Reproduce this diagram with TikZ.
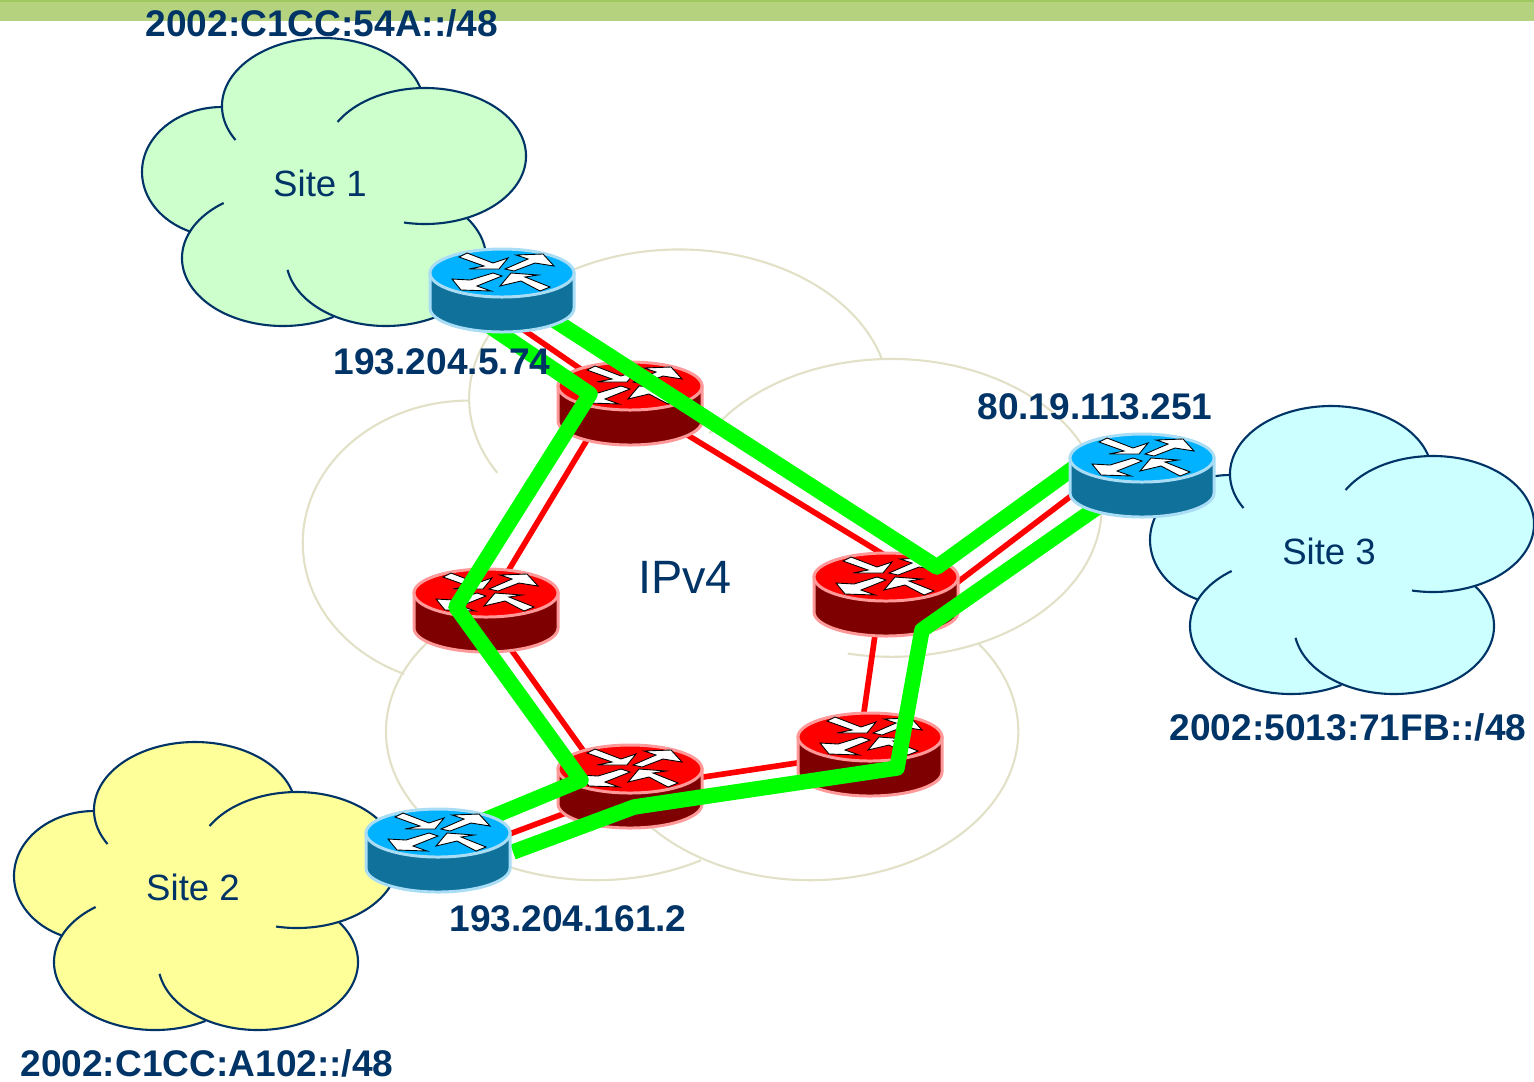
\documentclass[tikz,border=0pt]{standalone}
\usepackage{fontspec}
\setmainfont{Liberation Sans}
\usepackage{xcolor}
\usetikzlibrary{positioning,calc}

\definecolor{labelblue}{HTML}{003366}
\definecolor{barmoss}{HTML}{B5D27F}
\definecolor{barline}{HTML}{A0C860}
\definecolor{sitegreen}{HTML}{CCFFCC}
\definecolor{siteyellow}{HTML}{FFFF99}
\definecolor{sitecyan}{HTML}{CCFFFF}
\definecolor{coregrey}{HTML}{E2E1C8}
\definecolor{tunnelgreen}{HTML}{00FF00}
\definecolor{blueface}{HTML}{00B2FF}
\definecolor{blueside}{HTML}{10719B}
\definecolor{bluerim}{HTML}{A8DDF5}
\definecolor{redface}{HTML}{FF0000}
\definecolor{redside}{HTML}{7F0000}
\definecolor{redrim}{HTML}{FF9999}

\tikzset{
    addrlabel/.style={font=\bfseries\fontsize{10.55}{12}\selectfont, text=labelblue, inner sep=0pt},
    sitelabel/.style={font=\fontsize{10.4}{12}\selectfont, text=labelblue, inner sep=0pt},
    ipv4link/.style={draw=redface, line width=1.6pt},
    tunnel/.style={draw=tunnelgreen, line width=4.4pt, line join=round},
    routerarrow/.style={fill=white, draw=black, line width=0.25pt},
    pics/sitecloud/.style 2 args={code={
        % Fill
        \fill[#1] (3,-77) ellipse [x radius=101, y radius=68];
        \fill[#1] (105,-27) ellipse [x radius=101, y radius=68];
        \fill[#1] (-98,-11) ellipse [x radius=80, y radius=65];
        \fill[#1] (-37,75) ellipse [x radius=101, y radius=68];
        \fill[#1] (66,75) ellipse [x radius=100, y radius=68];
        \fill[#1] (-40,-40) rectangle (60,60);
        % Outline
        \draw[#2, line width=0.6pt] ([shift={(3,-77)}]150:101 and 68) arc [start angle=150, end angle=345, x radius=101, y radius=68];
        \draw[#2, line width=0.6pt] ([shift={(105,-27)}]210:101 and 68) arc [start angle=210, end angle=462, x radius=101, y radius=68];
        \draw[#2, line width=0.6pt] ([shift={(-98,-11)}]270:80 and 65) arc [start angle=270, end angle=113, x radius=80, y radius=65];
        \draw[#2, line width=0.6pt] ([shift={(-37,75)}]234:101 and 68) arc [start angle=234, end angle=60, x radius=101, y radius=68];
        \draw[#2, line width=0.6pt] ([shift={(66,75)}]170:100 and 68) arc [start angle=170, end angle=-36, x radius=100, y radius=68];
    }},
    pics/router/.style n args={3}{code={
        % Body
        \draw[fill=#2, draw=#3, line width=0.85pt] (-72,0) -- (-72,35) arc [start angle=180, end angle=0, x radius=72, y radius=24] -- (72,0) -- cycle;
        \draw[fill=#1, draw=#3, line width=0.85pt] (0,0) ellipse [x radius=72, y radius=24];
        % Arrows
        \draw[routerarrow] (-43,-16) -- (-35,-20) -- (-9,-10) -- (6,-15) -- (-3,-4) -- (-33,-4) -- (-18,-7) -- cycle;
        \draw[routerarrow] (3,-4) -- (12,-2) -- (33,-10) -- (52,-7) -- (41,-19) -- (14,-18) -- (26,-14) -- cycle;
        \draw[routerarrow] (0,3) -- (-9,0) -- (-32,7) -- (-50,6) -- (-41,17) -- (-11,18) -- (-25,13) -- cycle;
        \draw[routerarrow] (48,14) -- (38,18) -- (19,8) -- (-2,13) -- (9,0) -- (36,2) -- (23,4) -- cycle;
    }},
}

\begin{document}
\begin{tikzpicture}[x=0.01cm, y=-0.01cm]
    \useasboundingbox (0,0) rectangle (1534,1081);

    % Routers
    \coordinate (edge1) at (502,273);
    \coordinate (edge2) at (438,833);
    \coordinate (edge3) at (1142,458);
    \coordinate (coretop) at (630,386);
    \coordinate (coreleft) at (486,593);
    \coordinate (coreright) at (886,577);
    \coordinate (corelow) at (870,737);
    \coordinate (corebot) at (630,769);

    % Link ends, hidden behind the routers
    \coordinate (e1s) at (502,315);
    \coordinate (ts1) at (630,403);
    \coordinate (ts2) at (630,400);
    \coordinate (rn) at (886,556);
    \coordinate (rs) at (900,626);
    \coordinate (e3s) at (1142,442);
    \coordinate (ts3) at (605,410);
    \coordinate (ln) at (490,601);
    \coordinate (ls) at (490,620);
    \coordinate (bn) at (600,774);
    \coordinate (be) at (630,788);
    \coordinate (lw) at (870,752);
    \coordinate (ln2) at (860,740);
    \coordinate (rb) at (880,600);
    \coordinate (bw) at (630,789);
    \coordinate (e2e) at (480,845);

    % Tunnel bends
    \coordinate (a0) at (482,321);
    \coordinate (a1) at (590,394);
    \coordinate (a2) at (456,607);
    \coordinate (a3) at (581,780);
    \coordinate (a4) at (470,826);
    \coordinate (b0) at (540,311);
    \coordinate (b1) at (937,567);
    \coordinate (b2) at (1090,456);
    \coordinate (c0) at (1112,497);
    \coordinate (c1) at (922,630);
    \coordinate (c2) at (897,768);
    \coordinate (c3) at (634,807);
    \coordinate (c4) at (513,852);

    % Title bar
    \fill[barmoss] (0,0) rectangle (1534,21);
    \fill[barline] (0,0) rectangle (1534,1.5);

    % IPv4 cloud
    \pic[xscale=2.08, yscale=2.19] (core) at (673,567) {sitecloud={white}{coregrey}};

    % Sites
    \pic (site1) at (320,183) {sitecloud={sitegreen}{labelblue}};
    \pic (site2) at (192,887) {sitecloud={siteyellow}{labelblue}};
    \pic (site3) at (1328,551) {sitecloud={sitecyan}{labelblue}};

    % IPv4 links
    \draw[ipv4link] (e1s) -- (ts1);
    \draw[ipv4link] (ts2) -- (rn);
    \draw[ipv4link] (rs) -- (e3s);
    \draw[ipv4link] (ts3) -- (ln);
    \draw[ipv4link] (ls) -- (bn);
    \draw[ipv4link] (be) -- (lw);
    \draw[ipv4link] (ln2) -- (rb);
    \draw[ipv4link] (bw) -- (e2e);

    % Core routers
    \pic (rtop) at (coretop) {router={redface}{redside}{redrim}};
    \pic (rleft) at (coreleft) {router={redface}{redside}{redrim}};
    \pic (rright) at (coreright) {router={redface}{redside}{redrim}};
    \pic (rlow) at (corelow) {router={redface}{redside}{redrim}};
    \pic (rbot) at (corebot) {router={redface}{redside}{redrim}};

    % Tunnels
    \draw[tunnel] (a0) -- (a1) -- (a2) -- (a3) -- (a4);
    \draw[tunnel] (b0) -- (b1) -- (b2);
    \draw[tunnel] (c0) -- (c1) -- (c2) -- (c3) -- (c4);

    % Edge routers
    \pic (r1) at (edge1) {router={blueface}{blueside}{bluerim}};
    \pic (r2) at (edge2) {router={blueface}{blueside}{bluerim}};
    \pic (r3) at (edge3) {router={blueface}{blueside}{bluerim}};

    % Labels
    \node[addrlabel] (prefix1) at (322,23) {2002:C1CC:54A::/48};
    \node[addrlabel] (prefix2) at (207,1063) {2002:C1CC:A102::/48};
    \node[addrlabel] (prefix3) at (1348,727) {2002:5013:71FB::/48};
    \node[addrlabel] (addr1) at (442,362) {193.204.5.74};
    \node[addrlabel] (addr2) at (568,919) {193.204.161.2};
    \node[addrlabel] (addr3) at (1095,407) {80.19.113.251};
    \node[sitelabel] (name1) at (320,183) {Site 1};
    \node[sitelabel] (name2) at (193,887) {Site 2};
    \node[sitelabel] (name3) at (1329,551) {Site 3};
    \node[sitelabel, font=\fontsize{13.3}{15}\selectfont] (corename) at (685,577) {IPv4};
\end{tikzpicture}
\end{document}
